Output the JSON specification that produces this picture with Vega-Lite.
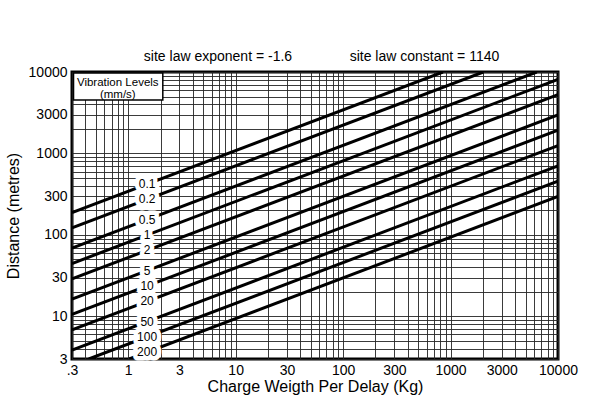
{
  "$schema": "https://vega.github.io/schema/vega-lite/v6.json",
  "width": 486,
  "height": 287,
  "autosize": "none",
  "padding": {"left": 72, "top": 72, "right": 41, "bottom": 54},
  "background": "white",
  "config": {
    "font": "Liberation Sans",
    "view": {"stroke": "black", "strokeWidth": 3},
    "axis": {
      "domain": false,
      "ticks": false,
      "grid": true,
      "gridColor": "#262626",
      "gridWidth": 1,
      "gridOpacity": 0.9,
      "labelColor": "black",
      "labelFontSize": 14,
      "labelFlush": false,
      "labelOverlap": false,
      "titleColor": "black",
      "titleFontSize": 16,
      "titleFontWeight": "normal"
    }
  },
  "datasets": {
    "curves": [
      {"ppv": 0.1, "w": 0.3, "d": 187.9},
      {"ppv": 0.1, "w": 849.5, "d": 10000},
      {"ppv": 0.2, "w": 0.3, "d": 121.87},
      {"ppv": 0.2, "w": 2019.6, "d": 10000},
      {"ppv": 0.5, "w": 0.3, "d": 68.74},
      {"ppv": 0.5, "w": 6349, "d": 10000},
      {"ppv": 1, "w": 0.3, "d": 44.58},
      {"ppv": 1, "w": 10000, "d": 8139},
      {"ppv": 2, "w": 0.3, "d": 28.91},
      {"ppv": 2, "w": 10000, "d": 5278},
      {"ppv": 5, "w": 0.3, "d": 16.3},
      {"ppv": 5, "w": 10000, "d": 2976},
      {"ppv": 10, "w": 0.3, "d": 10.571},
      {"ppv": 10, "w": 10000, "d": 1930},
      {"ppv": 20, "w": 0.3, "d": 6.852},
      {"ppv": 20, "w": 10000, "d": 1251},
      {"ppv": 50, "w": 0.3, "d": 3.866},
      {"ppv": 50, "w": 10000, "d": 705.9},
      {"ppv": 100, "w": 0.4296, "d": 3},
      {"ppv": 100, "w": 10000, "d": 457.7},
      {"ppv": 200, "w": 1.0217, "d": 3},
      {"ppv": 200, "w": 10000, "d": 296.8}
    ],
    "tags": [
      {"ppv": 0.1, "label": "0.1", "w": 1.5, "d": 420.2},
      {"ppv": 0.2, "label": "0.2", "w": 1.5, "d": 272.5},
      {"ppv": 0.5, "label": "0.5", "w": 1.5, "d": 153.7},
      {"ppv": 1, "label": "1", "w": 1.5, "d": 99.68},
      {"ppv": 2, "label": "2", "w": 1.5, "d": 64.64},
      {"ppv": 5, "label": "5", "w": 1.5, "d": 36.45},
      {"ppv": 10, "label": "10", "w": 1.5, "d": 23.64},
      {"ppv": 20, "label": "20", "w": 1.5, "d": 15.32},
      {"ppv": 50, "label": "50", "w": 1.5, "d": 8.645},
      {"ppv": 100, "label": "100", "w": 1.5, "d": 5.606},
      {"ppv": 200, "label": "200", "w": 1.5, "d": 3.635}
    ]
  },
  "layer": [
    {
      "data": {"name": "curves"},
      "mark": {"type": "line", "color": "black", "strokeWidth": 3, "clip": true},
      "encoding": {
        "x": {
          "field": "w",
          "type": "quantitative",
          "scale": {"type": "log", "domain": [0.3, 10000], "nice": false},
          "axis": {
            "title": "Charge Weigth Per Delay (Kg)",
            "values": [0.3, 0.4, 0.5, 0.6, 0.7, 0.8, 0.9, 1, 2, 3, 4, 5, 6, 7, 8, 9, 10, 20, 30, 40, 50, 60, 70, 80, 90, 100, 200, 300, 400, 500, 600, 700, 800, 900, 1000, 2000, 3000, 4000, 5000, 6000, 7000, 8000, 9000, 10000],
            "format": "d",
            "labelExpr": "indexof([0.3, 1, 3, 10, 30, 100, 300, 1000, 3000, 10000], datum.value) >= 0 ? (datum.value < 1 ? '.3' : datum.label) : ''",
            "labelPadding": 4,
            "titlePadding": 1
          }
        },
        "y": {
          "field": "d",
          "type": "quantitative",
          "scale": {"type": "log", "domain": [3, 10000], "nice": false},
          "axis": {
            "title": "Distance (metres)",
            "values": [3, 4, 5, 6, 7, 8, 9, 10, 20, 30, 40, 50, 60, 70, 80, 90, 100, 200, 300, 400, 500, 600, 700, 800, 900, 1000, 2000, 3000, 4000, 5000, 6000, 7000, 8000, 9000, 10000],
            "format": "d",
            "labelExpr": "indexof([3, 10, 30, 100, 300, 1000, 3000, 10000], datum.value) >= 0 ? datum.label : ''",
            "labelPadding": 5,
            "titlePadding": 7
          }
        },
        "detail": {"field": "ppv"}
      }
    },
    {
      "data": {"name": "tags"},
      "mark": {"type": "text", "fontSize": 12, "fill": "white", "stroke": "white", "strokeWidth": 9, "strokeJoin": "round", "align": "center", "baseline": "middle"},
      "encoding": {
        "x": {"field": "w", "type": "quantitative"},
        "y": {"field": "d", "type": "quantitative"},
        "text": {"field": "label"}
      }
    },
    {
      "data": {"name": "tags"},
      "mark": {"type": "text", "fontSize": 12, "fill": "black", "align": "center", "baseline": "middle"},
      "encoding": {
        "x": {"field": "w", "type": "quantitative"},
        "y": {"field": "d", "type": "quantitative"},
        "text": {"field": "label"}
      }
    },
    {
      "data": {"values": [{}]},
      "mark": {"type": "rect", "fill": "white", "stroke": "black", "strokeWidth": 1.5},
      "encoding": {
        "x": {"datum": 0.31},
        "x2": {"datum": 2.1},
        "y": {"datum": 9750},
        "y2": {"datum": 4530}
      }
    },
    {
      "data": {"values": [{}]},
      "mark": {"type": "text", "text": ["Vibration Levels", "(mm/s)"], "fontSize": 11.5, "lineHeight": 12, "align": "center", "baseline": "middle", "color": "black"},
      "encoding": {
        "x": {"datum": 0.8},
        "y": {"datum": 7330}
      }
    },
    {
      "data": {"values": [{}]},
      "mark": {"type": "text", "text": "site law exponent = -1.6", "fontSize": 14, "align": "center", "baseline": "middle", "color": "black", "clip": false},
      "encoding": {
        "x": {"datum": 6.85},
        "y": {"datum": 15300}
      }
    },
    {
      "data": {"values": [{}]},
      "mark": {"type": "text", "text": "site law constant = 1140", "fontSize": 14, "align": "center", "baseline": "middle", "color": "black", "clip": false},
      "encoding": {
        "x": {"datum": 572},
        "y": {"datum": 15300}
      }
    }
  ]
}
